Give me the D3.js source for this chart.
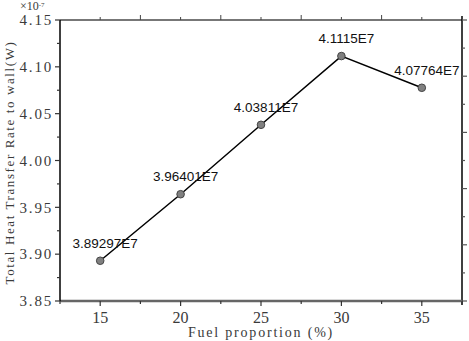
<!DOCTYPE html>
<html>
<head>
<meta charset="utf-8">
<script src="https://cdn.jsdelivr.net/npm/d3@7"></script>
<style>
  body { margin: 0; background: #fff; }
  .tickTxt { font-family: "Liberation Serif", "DejaVu Serif", serif; fill: #3a3a3a; }
  .ptTxt { font-family: "Liberation Sans", Arial, sans-serif; font-size: 13.5px; fill: #111; }
</style>
</head>
<body>
<div id="chart"></div>
<script>
// data (values in 1e7 W)
const fuelPct = [15, 20, 25, 30, 35];
const heatRate = [3.89297, 3.96401, 4.03811, 4.1115, 4.07764];
const pointLabels = ["3.89297E7", "3.96401E7", "4.03811E7", "4.1115E7", "4.07764E7"];
const xTicks = [15, 20, 25, 30, 35];
const yTicks = [3.85, 3.90, 3.95, 4.00, 4.05, 4.10, 4.15];

const W = 469, H = 341;
const pLeft = 60, pRight = 462, pTop = 20, pBottom = 301;

var svg = d3.select("#chart").append("svg")
    .attr("width", W)
    .attr("height", H);

var x = d3.scaleLinear().domain([12.5, 37.5]).range([pLeft, pRight]);
var y = d3.scaleLinear().domain([3.85, 4.15]).range([pBottom, pTop]);
// right-side axis has its own 10 divisions
var yr = d3.scaleLinear().domain([0, 10]).range([pBottom, pTop]);

// top frame line + ticks
svg.append("line")
    .attr("x1", pLeft).attr("x2", pRight).attr("y1", pTop).attr("y2", pTop)
    .attr("stroke", "#777").attr("stroke-width", 2);
var topTicks = d3.range(15, 37.5, 2.5);
svg.selectAll(".topTick").data(topTicks).enter().append("line")
    .attr("x1", d => x(d)).attr("x2", d => x(d))
    .attr("y1", pTop).attr("y2", (d, i) => pTop - (i % 2 ? 5 : 3))
    .attr("stroke", "#444").attr("stroke-width", 1);

// right frame line + ticks
svg.append("line")
    .attr("x1", pRight).attr("x2", pRight).attr("y1", pTop - 4).attr("y2", pBottom + 4)
    .attr("stroke", "#000").attr("stroke-width", 1.5);
svg.selectAll(".rTick").data(d3.range(0, 11)).enter().append("line")
    .attr("x1", pRight).attr("x2", (d, i) => pRight + (i % 2 ? 3 : 5))
    .attr("y1", d => yr(d)).attr("y2", d => yr(d))
    .attr("stroke", "#555").attr("stroke-width", 1.2);

// bottom axis
svg.append("line")
    .attr("x1", pLeft).attr("x2", pRight).attr("y1", pBottom).attr("y2", pBottom)
    .attr("stroke", "#666").attr("stroke-width", 2.5);
var xMinor = d3.range(12.5, 37.6, 2.5).filter(d => d % 5 !== 0);
svg.selectAll(".xMinor").data(xMinor).enter().append("line")
    .attr("x1", d => x(d)).attr("x2", d => x(d))
    .attr("y1", pBottom).attr("y2", pBottom + 3)
    .attr("stroke", "#333").attr("stroke-width", 1.2);
svg.selectAll(".xMajor").data(xTicks).enter().append("line")
    .attr("x1", d => x(d)).attr("x2", d => x(d))
    .attr("y1", pBottom).attr("y2", pBottom + 5)
    .attr("stroke", "#333").attr("stroke-width", 1.2);
svg.selectAll(".xLab").data(xTicks).enter().append("text")
    .attr("class", "tickTxt")
    .attr("x", d => x(d)).attr("y", pBottom + 22)
    .attr("text-anchor", "middle")
    .style("font-size", "16px")
    .text(d => d);

// left axis
svg.append("line")
    .attr("x1", pLeft).attr("x2", pLeft).attr("y1", pTop).attr("y2", pBottom)
    .attr("stroke", "#000").attr("stroke-width", 1.5);
var yMinor = d3.range(3.875, 4.15, 0.05);
svg.selectAll(".yMinor").data(yMinor).enter().append("line")
    .attr("x1", pLeft).attr("x2", pLeft - 3)
    .attr("y1", d => y(d)).attr("y2", d => y(d))
    .attr("stroke", "#333").attr("stroke-width", 1.2);
svg.selectAll(".yMajor").data(yTicks).enter().append("line")
    .attr("x1", pLeft).attr("x2", pLeft - 5)
    .attr("y1", d => y(d)).attr("y2", d => y(d))
    .attr("stroke", "#333").attr("stroke-width", 1.2);
svg.selectAll(".yLab").data(yTicks).enter().append("text")
    .attr("class", "tickTxt")
    .attr("x", pLeft - 7).attr("y", d => y(d))
    .attr("dy", "0.35em")
    .attr("text-anchor", "end")
    .style("font-size", "15px")
    .style("letter-spacing", "1.8px")
    .text(d => d.toFixed(2));

// exponent note
var expTxt = svg.append("text")
    .attr("class", "tickTxt")
    .attr("x", 20).attr("y", 10)
    .style("font-size", "12px");
expTxt.append("tspan").text("\u00d710");
expTxt.append("tspan").attr("dy", -3).style("font-size", "7px").text("-7");

// axis titles
svg.append("text")
    .attr("class", "tickTxt")
    .attr("x", (pLeft + pRight) / 2).attr("y", pBottom + 36)
    .attr("text-anchor", "middle")
    .style("font-size", "14px")
    .style("letter-spacing", "1.8px")
    .text("Fuel proportion (%)");

svg.append("text")
    .attr("class", "tickTxt")
    .attr("transform", "translate(14," + ((pTop + pBottom) / 2 + 2) + ") rotate(-90)")
    .attr("text-anchor", "middle")
    .style("font-size", "13px")
    .style("letter-spacing", "1.6px")
    .text("Total Heat Transfer Rate to wall(W)");

// line + markers
var pts = fuelPct.map((d, i) => ({ x: d, v: heatRate[i], lab: pointLabels[i] }));

svg.append("path")
    .datum(pts)
    .attr("fill", "none")
    .attr("stroke", "#000")
    .attr("stroke-width", 1.5)
    .attr("d", d3.line().x(d => x(d.x)).y(d => y(d.v)));

svg.selectAll(".pt").data(pts).enter().append("circle")
    .attr("cx", d => x(d.x)).attr("cy", d => y(d.v))
    .attr("r", 3.8)
    .attr("fill", "#808080")
    .attr("stroke", "#444")
    .attr("stroke-width", 1);

svg.selectAll(".ptTxt").data(pts).enter().append("text")
    .attr("class", "ptTxt")
    .attr("x", d => x(d.x) + 5).attr("y", d => y(d.v) - 13)
    .attr("text-anchor", "middle")
    .text(d => d.lab);
</script>
</body>
</html>
